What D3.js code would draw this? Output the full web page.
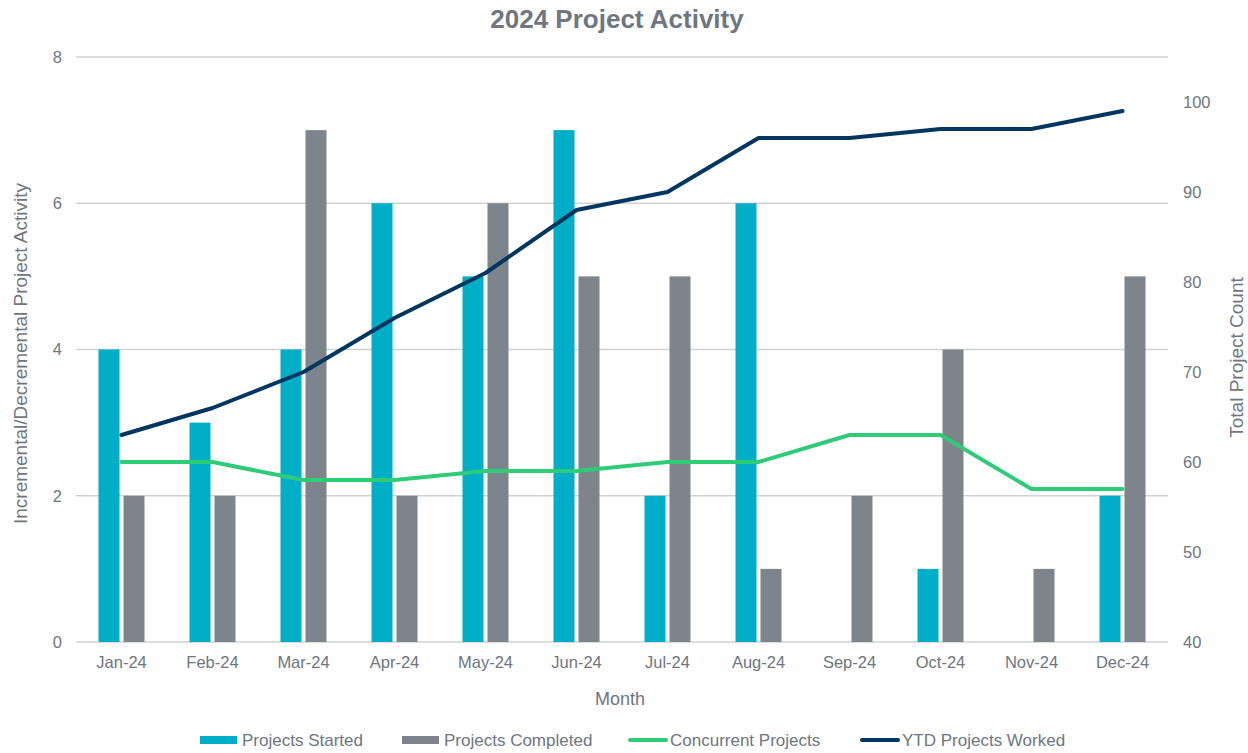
<!DOCTYPE html>
<html>
<head>
<meta charset="utf-8">
<script src="https://cdn.jsdelivr.net/npm/d3@7"></script>
<style>
  body { margin: 0; background: #fff; }
  svg text { font-family: "Liberation Sans", Arial, sans-serif; fill: #6e7681; }
</style>
</head>
<body>
<svg id="chart"></svg>
<script>
// Chart data
const months = ["Jan-24", "Feb-24", "Mar-24", "Apr-24", "May-24", "Jun-24",
                "Jul-24", "Aug-24", "Sep-24", "Oct-24", "Nov-24", "Dec-24"];
const projectsStarted = [4, 3, 4, 6, 5, 7, 2, 6, 0, 1, 0, 2];
const projectsCompleted = [2, 2, 7, 2, 6, 5, 5, 1, 2, 4, 1, 5];
const concurrentProjects = [60, 60, 58, 58, 59, 59, 60, 60, 63, 63, 57, 57];
const ytdProjectsWorked = [63, 66, 70, 76, 81, 88, 90, 96, 96, 97, 97, 99];
const leftTicks = [0, 2, 4, 6, 8];
const rightTicks = [40, 50, 60, 70, 80, 90, 100];

const width = 1248;
const height = 753;
const margin = { top: 57, right: 80, bottom: 111, left: 76 };
const innerW = width - margin.left - margin.right;
const innerH = height - margin.top - margin.bottom;

const colors = {
    started: "#00aec7",
    completed: "#7d848b",
    concurrent: "#2fcc78",
    ytd: "#003660"
};

const svg = d3.select("#chart")
    .attr("width", width)
    .attr("height", height);

const g = svg.append("g")
    .attr("transform", `translate(${margin.left}, ${margin.top})`);

// Scales
const x = d3.scaleBand()
    .domain(months)
    .range([0, innerW]);

const yLeft = d3.scaleLinear()
    .domain([0, 8])
    .range([innerH, 0]);

const yRight = d3.scaleLinear()
    .domain([40, 105])
    .range([innerH, 0]);

const barW = 21;
const barGap = 4;

// Gridlines
g.append("g")
    .selectAll("line")
    .data(leftTicks)
    .join("line")
    .attr("x1", 0)
    .attr("x2", innerW)
    .attr("y1", d => yLeft(d))
    .attr("y2", d => yLeft(d))
    .attr("stroke", "#cfd1d3")
    .attr("stroke-width", 1.5);

// Bars
const groups = g.append("g")
    .selectAll("g")
    .data(months)
    .join("g")
    .attr("transform", d => `translate(${x(d) + x.bandwidth() / 2}, 0)`);

groups.append("rect")
    .attr("x", -barW - barGap / 2)
    .attr("width", barW)
    .attr("y", (d, i) => yLeft(projectsStarted[i]))
    .attr("height", (d, i) => innerH - yLeft(projectsStarted[i]))
    .attr("fill", colors.started);

groups.append("rect")
    .attr("x", barGap / 2)
    .attr("width", barW)
    .attr("y", (d, i) => yLeft(projectsCompleted[i]))
    .attr("height", (d, i) => innerH - yLeft(projectsCompleted[i]))
    .attr("fill", colors.completed);

// Lines
const line = d3.line()
    .x((d, i) => x(months[i]) + x.bandwidth() / 2)
    .y(d => yRight(d));

g.append("path")
    .datum(concurrentProjects)
    .attr("d", line)
    .attr("fill", "none")
    .attr("stroke", colors.concurrent)
    .attr("stroke-width", 4)
    .attr("stroke-linejoin", "round")
    .attr("stroke-linecap", "round");

g.append("path")
    .datum(ytdProjectsWorked)
    .attr("d", line)
    .attr("fill", "none")
    .attr("stroke", colors.ytd)
    .attr("stroke-width", 4)
    .attr("stroke-linejoin", "round")
    .attr("stroke-linecap", "round");

// Axes
const xAxis = g.append("g")
    .attr("transform", `translate(0, ${innerH})`)
    .call(d3.axisBottom(x).tickSize(0).tickPadding(14));
xAxis.select(".domain").remove();
xAxis.selectAll("text").style("font-size", "16.5px").attr("fill", "#6e7681");

const leftAxis = g.append("g")
    .call(d3.axisLeft(yLeft).tickValues(leftTicks).tickSize(0).tickPadding(14));
leftAxis.select(".domain").remove();
leftAxis.selectAll("text").style("font-size", "16.5px").attr("fill", "#6e7681");

const rightAxis = g.append("g")
    .attr("transform", `translate(${innerW}, 0)`)
    .call(d3.axisRight(yRight).tickValues(rightTicks).tickSize(0).tickPadding(15));
rightAxis.select(".domain").remove();
rightAxis.selectAll("text").style("font-size", "16.5px").attr("fill", "#6e7681");

// Titles
svg.append("text")
    .attr("x", 617)
    .attr("y", 28)
    .attr("text-anchor", "middle")
    .style("font-size", "26px")
    .style("font-weight", "bold")
    .text("2024 Project Activity");

svg.append("text")
    .attr("x", 620)
    .attr("y", 705)
    .attr("text-anchor", "middle")
    .style("font-size", "18px")
    .text("Month");

svg.append("text")
    .attr("transform", `translate(27, ${margin.top + innerH / 2 + 4}) rotate(-90)`)
    .attr("text-anchor", "middle")
    .style("font-size", "19px")
    .text("Incremental/Decremental Project Activity");

svg.append("text")
    .attr("transform", `translate(1243, ${margin.top + innerH / 2 + 8}) rotate(-90)`)
    .attr("text-anchor", "middle")
    .style("font-size", "19px")
    .text("Total Project Count");

// Legend
const legendItems = [
    { label: "Projects Started", color: colors.started, type: "bar", x: 200 },
    { label: "Projects Completed", color: colors.completed, type: "bar", x: 402 },
    { label: "Concurrent Projects", color: colors.concurrent, type: "line", x: 628 },
    { label: "YTD Projects Worked", color: colors.ytd, type: "line", x: 860 }
];

const legend = svg.append("g")
    .selectAll("g")
    .data(legendItems)
    .join("g")
    .attr("transform", d => `translate(${d.x}, 740)`);

legend.filter(d => d.type === "bar")
    .append("rect")
    .attr("x", 0)
    .attr("y", -4)
    .attr("width", 37)
    .attr("height", 8)
    .attr("fill", d => d.color);

legend.filter(d => d.type === "line")
    .append("line")
    .attr("x1", 2)
    .attr("x2", 38)
    .attr("y1", 0)
    .attr("y2", 0)
    .attr("stroke", d => d.color)
    .attr("stroke-width", 4)
    .attr("stroke-linecap", "round");

legend.append("text")
    .attr("x", 42)
    .attr("y", 6)
    .style("font-size", "17px")
    .text(d => d.label);
</script>
</body>
</html>
